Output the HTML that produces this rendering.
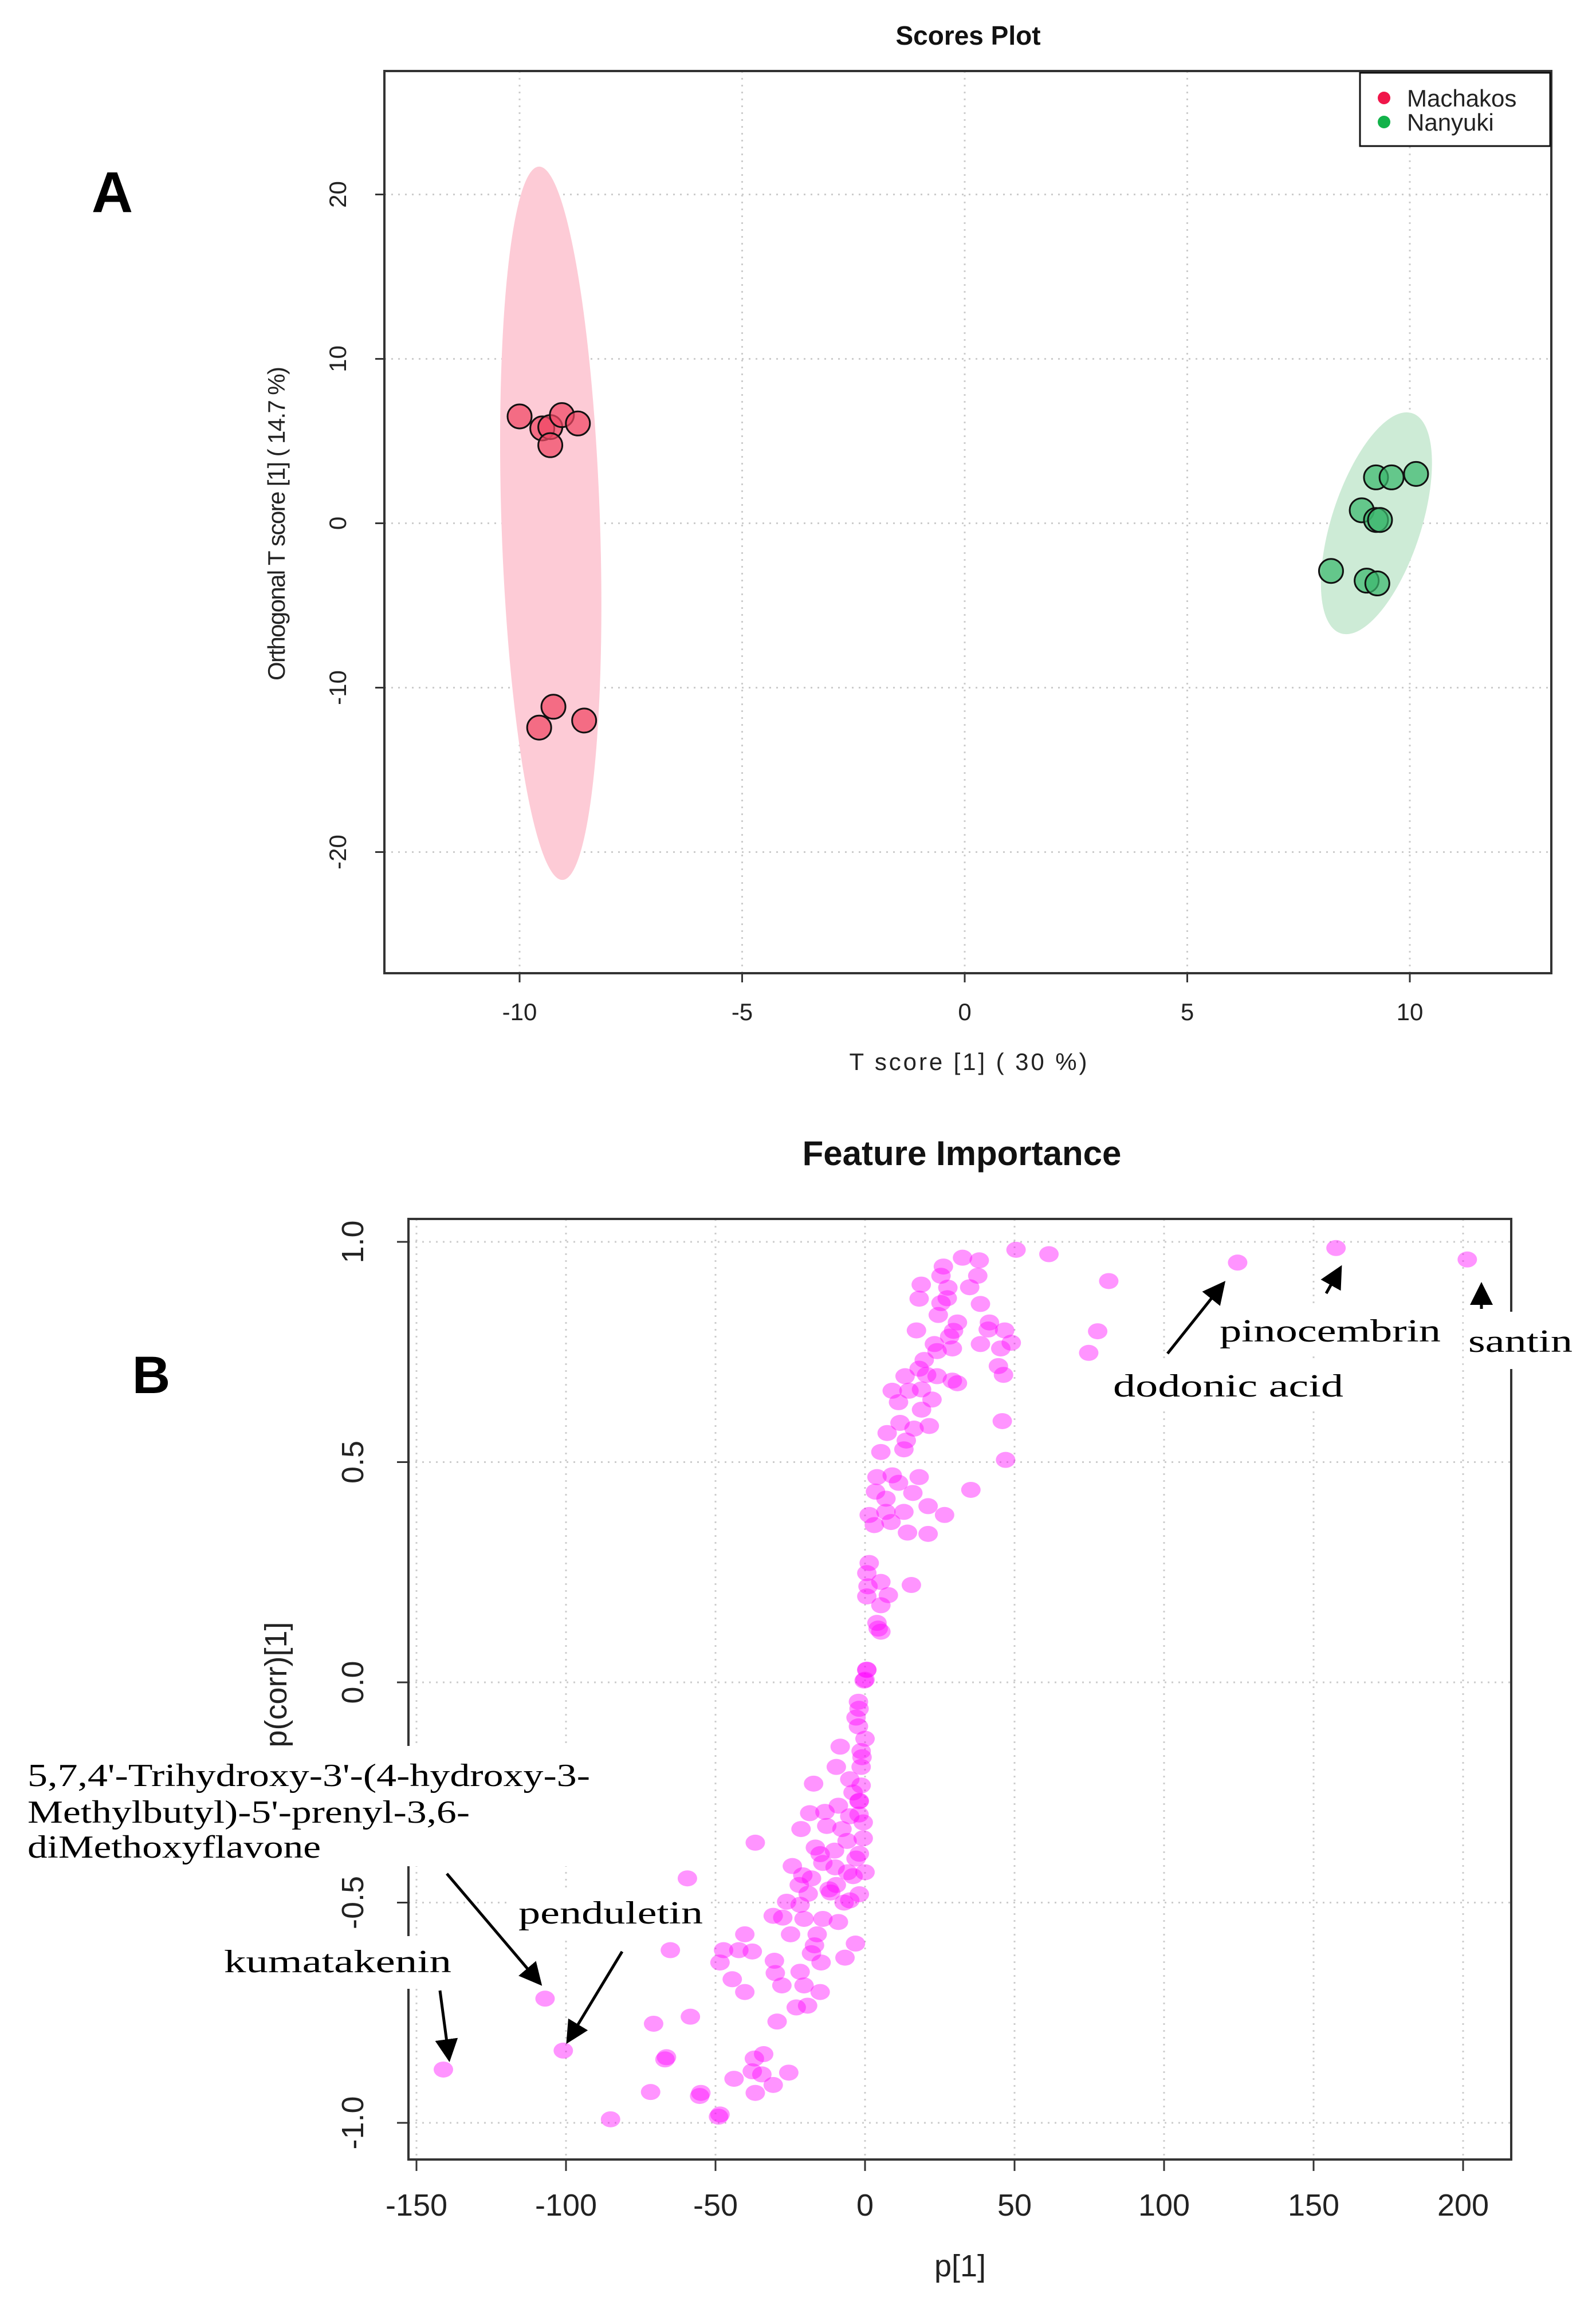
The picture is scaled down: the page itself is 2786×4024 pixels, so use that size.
<!DOCTYPE html>
<html><head><meta charset="utf-8"><style>
html,body{margin:0;padding:0;background:#fff}
svg{display:block}
text{font-family:"Liberation Sans",sans-serif}
.serif{font-family:"Liberation Serif",serif}
</style></head><body>
<svg id="fig" width="2786" height="4024" viewBox="0 0 2786 4024" xmlns="http://www.w3.org/2000/svg">
<rect width="2786" height="4024" fill="#fff"/>
<g id="plotA"></g>
<g id="plotB"></g>
</svg>
<script>
// ---- Plot A data ----
const machakosX = [-10.0,-9.49,-9.31,-9.05,-8.69,-9.31,-9.24,-9.56,-8.55];
const machakosY = [6.5,5.77,5.85,6.58,6.07,4.75,-11.16,-12.43,-12.0];
const nanyukiX = [9.24,9.59,10.14,8.92,9.24,9.33,8.23,9.03,9.27];
const nanyukiY = [2.79,2.79,3.0,0.79,0.2,0.2,-2.9,-3.49,-3.66];
const aXTicks = [-10,-5,0,5,10];
const aYTicks = [-20,-10,0,10,20];
const aXTickLabels = ["-10","-5","0","5","10"];
const aYTickLabels = ["-20","-10","0","10","20"];

// ---- Plot B data ----
const pX = [50.5,61.5,81.5,77.8,74.8,32.6,38.2,26.2,25.4,37.7,18.8,27.7,35.0,18.1,27.5,25.4,38.6,24.5,30.9,41.6,17.2,41.2,46.7,29.6,28.3,48.9,38.6,23.2,29.2,45.4,24.1,19.8,44.6,46.3,18.1,13.4,20.6,24.1,29.2,30.9,9.1,14.7,18.9,11.2,22.4,18.9,11.7,21.5,16.4,7.4,13.8,13.0,5.3,45.9,47.0,4.0,9.1,18.1,11.2,3.5,16.0,35.4,7.0,21.1,1.4,7.0,13.0,26.6,3.1,8.7,14.2,21.1,1.4,0.6,5.3,1.0,7.8,0.6,15.5,5.3,4.0,4.4,5.3,0.6,0.0,
0.6,-0.3,-2.2,-2.2,0,-8.3,-1.3,-9.6,-1.3,-17.2,-1.3,-5.1,-1.9,-18.5,-13.4,-8.9,-5.1,-0.6,-21.4,-12.8,-7.7,-0.6,-36.7,-16.6,-10.2,-1.9,-24.3,-14.1,-5.8,0,-20.8,-17.9,-9.6,-1.9,-11.5,-26.2,-21.7,-5.1,-30.7,-27.5,-20.4,-14.1,-8.9,-24.9,-16.0,-40.2,-16.9,-3.2,-17.9,-47.3,-42.2,-37.7,-6.7,-30.3,-14.7,-48.5,-30.0,-21.7,-44.4,-27.8,-20.4,-15.0,-40.2,-23.0,-19.2,-29.4,-58.4,-70.7,-66.4,-33.9,-37.0,-37.7,-34.5,-25.5,-43.8,-30.7,-36.7,-54.9,-48.5,-65.1,
124.6,157.5,201.4,-141,-107,-100.9,-85.1,-71.7,-66.9,-59.4,-49,-55.3,-2,-3,-1,-4,-6,-3,-2,-10,-12,-7,-4,-2,-19,-15,-22];
const pY = [0.982,0.972,0.911,0.797,0.748,0.964,0.958,0.944,0.923,0.923,0.903,0.896,0.897,0.871,0.872,0.861,0.859,0.834,0.817,0.817,0.799,0.801,0.799,0.798,0.785,0.771,0.768,0.768,0.758,0.758,0.752,0.732,0.718,0.698,0.712,0.695,0.698,0.695,0.685,0.679,0.662,0.662,0.665,0.636,0.642,0.619,0.589,0.582,0.576,0.566,0.549,0.529,0.523,0.593,0.505,0.466,0.470,0.466,0.453,0.433,0.430,0.437,0.417,0.400,0.380,0.387,0.387,0.380,0.357,0.364,0.340,0.337,0.271,0.248,0.228,0.218,0.198,0.195,0.221,0.175,0.135,0.122,0.115,0.029,0.006,
0.028,0.004,-0.044,-0.100,-0.128,-0.146,-0.156,-0.192,-0.192,-0.230,-0.234,-0.220,-0.269,-0.297,-0.294,-0.280,-0.304,-0.318,-0.333,-0.326,-0.333,-0.354,-0.364,-0.375,-0.382,-0.389,-0.417,-0.410,-0.431,-0.431,-0.438,-0.445,-0.460,-0.481,-0.477,-0.498,-0.505,-0.495,-0.530,-0.534,-0.537,-0.537,-0.544,-0.572,-0.572,-0.572,-0.597,-0.593,-0.615,-0.608,-0.608,-0.611,-0.625,-0.632,-0.636,-0.636,-0.660,-0.657,-0.674,-0.688,-0.688,-0.703,-0.703,-0.738,-0.734,-0.770,-0.759,-0.775,-0.851,-0.844,-0.854,-0.883,-0.890,-0.886,-0.900,-0.914,-0.932,-0.932,-0.981,-0.608,
0.953,0.986,0.960,-0.879,-0.718,-0.836,-0.992,-0.930,-0.856,-0.445,-0.986,-0.939,-0.060,-0.080,-0.170,-0.250,-0.360,-0.400,-0.300,-0.420,-0.470,-0.500,-0.440,-0.270,-0.480,-0.390,-0.460];
const bXTicks = [-150,-100,-50,0,50,100,150,200];
const bYTicks = [-1.0,-0.5,0.0,0.5,1.0];
const bXTickLabels = ["-150","-100","-50","0","50","100","150","200"];
const bYTickLabels = ["-1.0","-0.5","0.0","0.5","1.0"];

const NS="http://www.w3.org/2000/svg";
function mk(parent,tag,attrs,txt){const e=document.createElementNS(NS,tag);for(const k in attrs)e.setAttribute(k,attrs[k]);if(txt!==undefined)e.textContent=txt;parent.appendChild(e);return e;}

// ===== Plot A =====
const A=document.getElementById('plotA');
const ax=x=>1684+77.7*x, ay=y=>913.5-28.7*y;
const AL=671,AR=2708,AT=124,AB=1699;
aXTicks.forEach((t,i)=>{
 const g=mk(A,'line',{x1:ax(t),x2:ax(t),y1:AT,y2:AB,stroke:'#ccc','stroke-width':3,'stroke-dasharray':'3 9'});
 
 
 const tk=mk(A,'line',{x1:ax(t),x2:ax(t),y1:AB,y2:AB+16,stroke:'#333','stroke-width':3});
 
 
 const l=mk(A,'text',{x:ax(t),y:1781,'font-size':42,'text-anchor':'middle',fill:'#222'},aXTickLabels[i]);
 
 
});
aYTicks.forEach((t,i)=>{
 const g=mk(A,'line',{x1:AL,x2:AR,y1:ay(t),y2:ay(t),stroke:'#ccc','stroke-width':3,'stroke-dasharray':'3 9'});
 
 
 const tk=mk(A,'line',{x1:AL-16,x2:AL,y1:ay(t),y2:ay(t),stroke:'#333','stroke-width':3});
 
 
 const l=mk(A,'text',{x:0,y:0,'font-size':42,'text-anchor':'middle',fill:'#222',transform:`translate(604,${ay(t)}) rotate(-90)`},aYTickLabels[i]);
 
 
});
const e1=mk(A,'ellipse',{cx:ax(-9.3),cy:ay(0),rx:86,ry:623,fill:'#fdcbd6',transform:`rotate(-1.9 ${ax(-9.3)} ${ay(0)})`});


const e2=mk(A,'ellipse',{cx:ax(9.25),cy:ay(0),rx:78,ry:202,fill:'#cdebd6',transform:`rotate(18 ${ax(9.25)} ${ay(0)})`});


machakosX.forEach((x,i)=>{
 const c=mk(A,'circle',{cx:ax(x),cy:ay(machakosY[i]),r:21,fill:'rgba(240,70,100,0.72)',stroke:'#111','stroke-width':3});
 
 
});
nanyukiX.forEach((x,i)=>{
 const c=mk(A,'circle',{cx:ax(x),cy:ay(nanyukiY[i]),r:21,fill:'rgba(60,185,110,0.72)',stroke:'#111','stroke-width':3});
 
 
});
const fa=mk(A,'rect',{x:AL,y:AT,width:AR-AL,height:AB-AT,fill:'none',stroke:'#333','stroke-width':4});


const lg=mk(A,'g',{});


mk(lg,'rect',{x:2374,y:127,width:332,height:128,fill:'#fff',stroke:'#111','stroke-width':3});
mk(lg,'circle',{cx:2416,cy:171,r:11,fill:'#f0164a'});
mk(lg,'circle',{cx:2416,cy:213,r:11,fill:'#12b24a'});
const lt1=mk(lg,'text',{x:2456,y:186,'font-size':42,fill:'#222'},'Machakos');


const lt2=mk(lg,'text',{x:2456,y:228,'font-size':42,fill:'#222'},'Nanyuki');


const ta=mk(A,'text',{x:1690,y:78,'font-size':46,'font-weight':'bold','text-anchor':'middle',fill:'#111'},'Scores Plot');


const xa=mk(A,'text',{x:1690,y:1868,'font-size':42,'text-anchor':'middle',fill:'#222',textLength:415},'T score [1] ( 30 %)');


const ya=mk(A,'text',{x:0,y:0,'font-size':42,'text-anchor':'middle',fill:'#222',textLength:548,transform:'translate(497,914) rotate(-90)'},'Orthogonal T score [1] ( 14.7 %)');


const la=mk(A,'text',{x:196,y:370,'font-size':100,'font-weight':'bold','text-anchor':'middle',fill:'#000'},'A');



// ===== Plot B =====
const B=document.getElementById('plotB');
const bx=x=>1510+5.22*x, by=y=>2937-769*y;
const BL=713,BR=2638,BT=2128,BB=3770;
bXTicks.forEach((t,i)=>{
 const g=mk(B,'line',{x1:bx(t),x2:bx(t),y1:BT,y2:BB,stroke:'#ccc','stroke-width':3,'stroke-dasharray':'3 9'});
 
 
 const tk=mk(B,'line',{x1:bx(t),x2:bx(t),y1:BB,y2:BB+20,stroke:'#333','stroke-width':3});
 
 
 const l=mk(B,'text',{x:bx(t),y:3868,'font-size':54,'text-anchor':'middle',fill:'#222'},bXTickLabels[i]);
 
 
});
bYTicks.forEach((t,i)=>{
 const g=mk(B,'line',{x1:BL,x2:BR,y1:by(t),y2:by(t),stroke:'#ccc','stroke-width':3,'stroke-dasharray':'3 9'});
 
 
 const tk=mk(B,'line',{x1:BL-20,x2:BL,y1:by(t),y2:by(t),stroke:'#333','stroke-width':3});
 
 
 const l=mk(B,'text',{x:0,y:0,'font-size':54,'text-anchor':'middle',fill:'#222',transform:`translate(634,${by(t)}) rotate(-90)`},bYTickLabels[i]);
 
 
});
pX.forEach((x,i)=>{
 const c=mk(B,'ellipse',{cx:bx(x),cy:by(pY[i]),rx:17,ry:14,fill:'rgba(255,0,255,0.42)'});
 
 
});
const fb=mk(B,'rect',{x:BL,y:BT,width:BR-BL,height:BB-BT,fill:'none',stroke:'#333','stroke-width':4});


const tb=mk(B,'text',{x:1679,y:2034,'font-size':60,'font-weight':'bold','text-anchor':'middle',fill:'#111'},'Feature Importance');


const xb=mk(B,'text',{x:1676,y:3974,'font-size':54,'text-anchor':'middle',fill:'#222'},'p[1]');


const yb=mk(B,'text',{x:0,y:0,'font-size':54,'text-anchor':'middle',fill:'#222',transform:'translate(500,2941) rotate(-90)'},'p(corr)[1]');


const lb=mk(B,'text',{x:264,y:2432,'font-size':92,'font-weight':'bold','text-anchor':'middle',fill:'#000'},'B');



// annotation backgrounds
[[40,3048,1000,210],[370,3380,430,92],[890,3298,345,90],[2120,2280,400,85],[1935,2375,420,85],[2555,2290,195,100]].forEach(r=>{
 const bg=mk(B,'rect',{x:r[0],y:r[1],width:r[2],height:r[3],fill:'#fff'});
 
 
});
const ann=[
 ['annotation-trihydroxy-line1',48,3118,"5,7,4'-Trihydroxy-3'-(4-hydroxy-3-",982],
 ['annotation-trihydroxy-line2',48,3182,"Methylbutyl)-5'-prenyl-3,6-",772],
 ['annotation-trihydroxy-line3',48,3243,"diMethoxyflavone",512],
 ['annotation-penduletin',905,3358,'penduletin',322],
 ['annotation-kumatakenin',391,3443,'kumatakenin',397],
 ['annotation-pinocembrin',2129,2342,'pinocembrin',386],
 ['annotation-dodonic-acid',1943,2438,'dodonic  acid',402],
 ['annotation-santin',2563,2360,'santin',182]
];
ann.forEach(a=>{
 const t=mk(B,'text',{x:a[1],y:a[2],'font-size':56,fill:'#000',class:'serif',textLength:a[4],lengthAdjust:'spacingAndGlyphs'},a[3]);
 
 
});
const defs=mk(B,'defs',{});
const mkr=mk(defs,'marker',{id:'ah',markerWidth:8,markerHeight:8,refX:7,refY:4,orient:'auto',markerUnits:'strokeWidth'});
mk(mkr,'path',{d:'M0,0 L8,4 L0,8 Z',fill:'#000'});
[[2038,2363,2136,2240],[2315,2258,2340,2213],[2586,2285,2586,2243],[780,3271,943,3463],[1086,3407,991,3564],[768,3475,784,3595]].forEach(l=>{
 const ln=mk(B,'line',{x1:l[0],y1:l[1],x2:l[2],y2:l[3],stroke:'#000','stroke-width':5,'marker-end':'url(#ah)'});
 
 
});
</script>
</body></html>
